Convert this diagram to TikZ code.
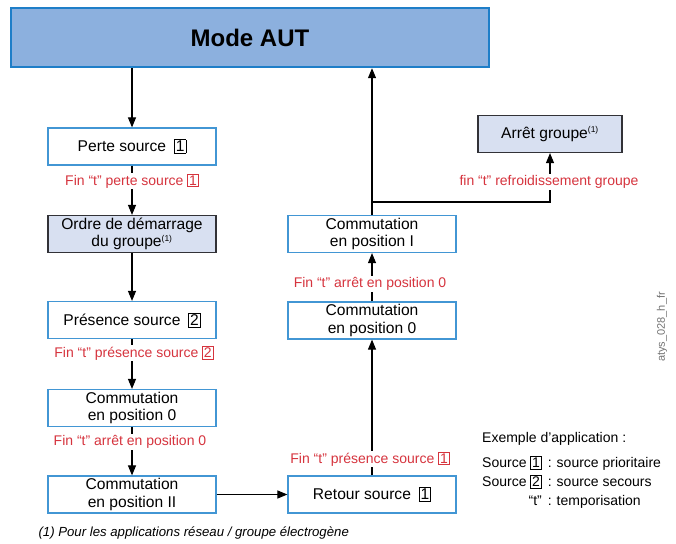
\documentclass[tikz,border=0pt]{standalone}
\usepackage{fontspec}
\setmainfont{Liberation Sans}
\usepackage{xcolor}
\usetikzlibrary{arrows.meta}
\definecolor{modefill}{RGB}{140,176,222}
\definecolor{modeline}{RGB}{30,126,200}
\definecolor{boxline}{RGB}{66,150,212}
\definecolor{groupfill}{RGB}{216,224,241}
\definecolor{groupline}{RGB}{50,50,55}
\definecolor{labelred}{RGB}{214,52,62}
\newcommand{\srcnum}[1]{{\setlength{\fboxsep}{1.2pt}\setlength{\fboxrule}{0.6pt}\fbox{#1}}}
\newcommand{\fnref}{\textsuperscript{\fontsize{8.5}{8.5}\selectfont(1)}}

\tikzset{
  flowbox/.style={draw=boxline, line width=1.2pt, fill=white, minimum width=168pt, minimum height=37pt,
    align=center, inner sep=2pt, font=\fontsize{15.6}{17.5}\selectfont},
  groupbox/.style={flowbox, draw=groupline, fill=groupfill},
  waitlabel/.style={fill=white, inner sep=1pt, text=labelred, font=\fontsize{14}{16}\selectfont},
  flow/.style={line width=1.1pt, -{Triangle[length=10pt,width=8pt]}}
}

\begin{document}
\begin{tikzpicture}[x=1pt, y=-1pt]
  \useasboundingbox (0,0) rectangle (676,543);
  % main mode
  \node[draw=modeline, line width=2.4pt, fill=modefill, minimum width=478pt, minimum height=59pt,
    font=\fontsize{24}{28}\selectfont\bfseries] (mode) at (250,37.5) {Mode AUT};
  % left column
  \node[flowbox] (perte) at (132,146.5) {Perte source\enspace\srcnum{1}};
  \node[groupbox] (ordre) at (132,234) {Ordre de démarrage\\du groupe\fnref};
  \node[flowbox] (presence) at (132,320) {Présence source\enspace\srcnum{2}};
  \node[flowbox] (commzeroL) at (132,408) {Commutation\\en position 0};
  \node[flowbox] (commII) at (132,494.5) {Commutation\\en position II};
  % right column
  \node[flowbox] (retour) at (372,494.5) {Retour source\enspace\srcnum{1}};
  \node[flowbox] (commzeroR) at (372,320.5) {Commutation\\en position 0};
  \node[flowbox] (commI) at (372,234) {Commutation\\en position I};
  \node[groupbox, minimum width=144pt] (arret) at (550,134) {Arrêt groupe\fnref};
  \coordinate (split) at (372,202);

  % connectors
  \draw[flow] (perte.north |- mode.south) -- (perte.north);
  \draw[flow] (perte) -- (ordre);
  \draw[flow] (ordre) -- (presence);
  \draw[flow] (presence) -- (commzeroL);
  \draw[flow] (commzeroL) -- (commII);
  \draw[flow] (commII) -- (retour);
  \draw[flow] (retour) -- (commzeroR);
  \draw[flow] (commzeroR) -- (commI);
  \draw[flow] (commI.north) -- (commI.north |- mode.south);
  \draw[flow] (split) -| (arret.south);

  % timer labels
  \node[waitlabel] (lbperte) at (132,181) {Fin “t” perte source \srcnum{1}};
  \node[waitlabel] (lbpres) at (134,353) {Fin “t” présence source \srcnum{2}};
  \node[waitlabel] (lbzeroL) at (130,442) {Fin “t” arrêt en position 0};
  \node[waitlabel] (lbretour) at (370,459) {Fin “t” présence source \srcnum{1}};
  \node[waitlabel] (lbzeroR) at (370,284) {Fin “t” arrêt en position 0};
  \node[waitlabel] (lbcool) at (549,182) {fin “t” refroidissement groupe};

  % legend and notes
  \node[anchor=north west, inner sep=0pt, font=\fontsize{14}{17}\selectfont] (legend) at (482,429) {%
    \renewcommand{\arraystretch}{1.12}%
    \begin{tabular}{@{}r@{\hspace{6pt}}l@{}}
      \multicolumn{2}{@{}l@{}}{Exemple d’application :}\\[6pt]
      Source \srcnum{1} & :\hspace{5pt}source prioritaire\\
      Source \srcnum{2} & :\hspace{5pt}source secours\\
      “t” & :\hspace{5pt}temporisation
    \end{tabular}};
  \node[anchor=west, font=\fontsize{13.2}{15}\selectfont\itshape] (footnote) at (35,533)
    {(1) Pour les applications réseau / groupe électrogène};
  \node[rotate=90, text=black!55, font=\fontsize{11}{12}\selectfont] (ref) at (662,327) {atys\_028\_h\_fr};
\end{tikzpicture}
\end{document}
